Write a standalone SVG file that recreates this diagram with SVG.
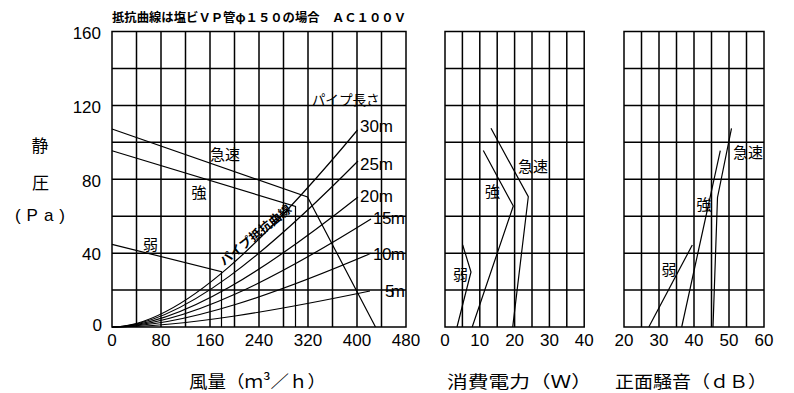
<svg xmlns="http://www.w3.org/2000/svg" width="794" height="393" viewBox="0 0 794 393">
<style>
.bg{fill:#fff}
.grid{fill:none;stroke:#000;stroke-width:1.5}
.ln{fill:none;stroke:#000;stroke-width:1.2;stroke-linejoin:miter}
.jp{font-family:"Noto Sans CJK JP","Noto Sans",sans-serif;fill:#000}
.num{font-family:"Liberation Sans",Arial,sans-serif;font-size:17px;fill:#000}
.lbl{font-size:15px}
.mid{text-anchor:middle}
.end{text-anchor:end}
</style>
<rect class="bg" x="0" y="0" width="794" height="393"/>

<text class="jp" x="112" y="21.5" font-size="12" font-weight="bold" textLength="294" lengthAdjust="spacingAndGlyphs">抵抗曲線は塩ビＶＰ管φ１５０の場合　ＡＣ１００Ｖ</text>

<g id="chart-airflow">
<rect class="grid" x="112" y="31.5" width="294" height="295.5"/>
<path class="grid" d="M136.5,31.5V327M161,31.5V327M185.5,31.5V327M210,31.5V327M234.5,31.5V327M259,31.5V327M283.5,31.5V327M308,31.5V327M332.5,31.5V327M357,31.5V327M381.5,31.5V327M112,68.44H406M112,105.38H406M112,142.31H406M112,179.25H406M112,216.19H406M112,253.13H406M112,290.06H406"/>
<g id="y-labels">
<text class="num end" x="101" y="38.5">160</text>
<text class="num end" x="101" y="112.5">120</text>
<text class="num end" x="101" y="186.5">80</text>
<text class="num end" x="101" y="260">40</text>
<text class="num end" x="102" y="330.5">0</text>
</g>
<g id="x-labels-airflow">
<text class="num mid" x="112" y="345.5">0</text>
<text class="num mid" x="161" y="345.5">80</text>
<text class="num mid" x="210" y="345.5">160</text>
<text class="num mid" x="259" y="345.5">240</text>
<text class="num mid" x="308" y="345.5">320</text>
<text class="num mid" x="357" y="345.5">400</text>
<text class="num mid" x="406" y="345.5">480</text>
</g>
<g id="pipe-curves">
<path class="ln" d="M112,327C182,327 272.1,232.4 357.5,130"/>
<path class="ln" d="M112,327C182.1,327 272.4,247.3 358,161"/>
<path class="ln" d="M112,327C182.1,327 272.4,264.6 358,197"/>
<path class="ln" d="M112,327C185.8,327 280.9,275.2 371,219"/>
<path class="ln" d="M112,327C185.8,327 280.9,291.6 371,253.3"/>
<path class="ln" d="M112,327C185.5,327 280.2,309.7 370,291"/>
</g>
<g id="fan-curves">
<path class="ln" d="M112,129L307.5,197L375.5,327"/>
<path class="ln" d="M112,150.7L295.5,206.5L295.5,327"/>
<path class="ln" d="M112,244.3L221.5,271.7L221.5,327"/>
</g>
<g id="pipe-labels">
<text class="num" x="360" y="131.5" textLength="33">30m</text>
<text class="num" x="360" y="170" textLength="33">25m</text>
<text class="num" x="360" y="201.5" textLength="33">20m</text>
<text class="num" x="373" y="223.5" textLength="32">15m</text>
<text class="num" x="373" y="260" textLength="32">10m</text>
<text class="num" x="385" y="296.5" textLength="20">5m</text>
<text class="jp" x="311.7" y="104.5" font-size="14" textLength="68" lengthAdjust="spacingAndGlyphs">パイプ長さ</text>
<text class="jp" transform="translate(224,266) rotate(-39)" font-size="12" font-weight="bold" textLength="88" lengthAdjust="spacingAndGlyphs">パイプ抵抗曲線</text>
</g>
<text class="jp lbl" x="210" y="159.5">急速</text>
<text class="jp lbl" x="191.5" y="198">強</text>
<text class="jp lbl" x="143" y="250">弱</text>
</g>

<g id="chart-power">
<rect class="grid" x="445" y="31.5" width="139.2" height="295.5"/>
<path class="grid" d="M462.4,31.5V327M479.8,31.5V327M497.2,31.5V327M514.6,31.5V327M532,31.5V327M549.4,31.5V327M566.8,31.5V327M445,68.44H584.2M445,105.38H584.2M445,142.31H584.2M445,179.25H584.2M445,216.19H584.2M445,253.13H584.2M445,290.06H584.2"/>
<text class="num mid" x="445" y="345.5">0</text>
<text class="num mid" x="479.8" y="345.5">10</text>
<text class="num mid" x="514.6" y="345.5">20</text>
<text class="num mid" x="549.4" y="345.5">30</text>
<text class="num mid" x="584.2" y="345.5">40</text>
<path class="ln" d="M491,128.3L528.3,196.7L512.7,327"/>
<path class="ln" d="M483.3,150.5L513.3,206L472.2,327"/>
<path class="ln" d="M462.7,245L471,272L457,327"/>
<text class="jp lbl" x="518" y="171.5">急速</text>
<text class="jp lbl" x="485" y="196.5">強</text>
<text class="jp lbl" x="453" y="279.5">弱</text>
</g>

<g id="chart-noise">
<rect class="grid" x="624" y="31.5" width="140" height="295.5"/>
<path class="grid" d="M641.5,31.5V327M659,31.5V327M676.5,31.5V327M694,31.5V327M711.5,31.5V327M729,31.5V327M746.5,31.5V327M624,68.44H764M624,105.38H764M624,142.31H764M624,179.25H764M624,216.19H764M624,253.13H764M624,290.06H764"/>
<text class="num mid" x="624" y="345.5">20</text>
<text class="num mid" x="659" y="345.5">30</text>
<text class="num mid" x="694" y="345.5">40</text>
<text class="num mid" x="729" y="345.5">50</text>
<text class="num mid" x="764" y="345.5">60</text>
<path class="ln" d="M731.5,128.3L717.5,197.5L713,327"/>
<path class="ln" d="M720.3,150.7L681.7,327"/>
<path class="ln" d="M692.3,245L648.8,327"/>
<text class="jp lbl" x="733" y="158">急速</text>
<text class="jp lbl" x="696.5" y="209.5">強</text>
<text class="jp lbl" x="661.5" y="274.5">弱</text>
</g>

<g id="axis-titles">
<text class="jp mid" x="40" y="152" font-size="17">静</text>
<text class="jp mid" x="40.5" y="189" font-size="17">圧</text>
<text class="num" x="15" y="221" font-size="18" textLength="50">(Pa)</text>
<text class="jp" x="189" y="388" font-size="17" textLength="137" lengthAdjust="spacingAndGlyphs">風量（ｍ³／ｈ）</text>
<text class="jp" x="447" y="388" font-size="17" textLength="145" lengthAdjust="spacingAndGlyphs">消費電力（Ｗ）</text>
<text class="jp" x="615" y="388" font-size="17" textLength="152" lengthAdjust="spacingAndGlyphs">正面騒音（ｄＢ）</text>
</g>
</svg>
